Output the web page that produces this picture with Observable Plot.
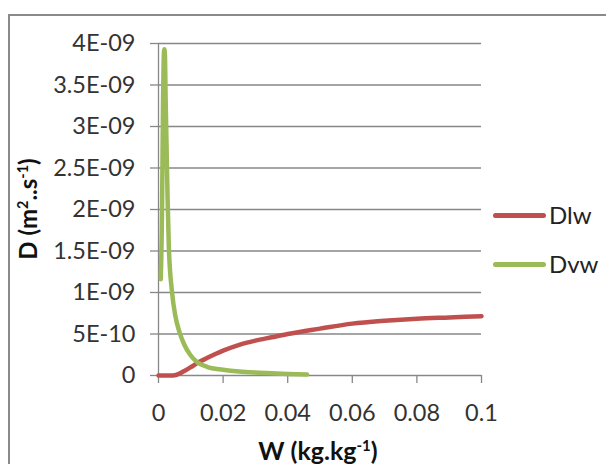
<!DOCTYPE html>
<html>
<head>
<meta charset="utf-8">
<script src="https://cdn.jsdelivr.net/npm/d3@7"></script>
<script src="https://cdn.jsdelivr.net/npm/@observablehq/plot@0.6"></script>
<style>
  body { margin: 0; background: #fff; }
  #wrap { position: relative; width: 606px; height: 464px; overflow: hidden; background: #fff; font-family: Lato, sans-serif; }
  #frame { position: absolute; left: 8px; top: 14px; width: 700px; height: 600px; border: 2px solid #8a8a8a; box-sizing: border-box; }
  #chart { position: absolute; left: 0; top: 0; }
  .ytitle { position: absolute; left: 27px; top: 209px; transform: translate(-50%, -50%) rotate(-90deg); font-weight: bold; font-size: 24px; color: #111; white-space: nowrap; }
  .xtitle { position: absolute; left: 318px; top: 450px; transform: translate(-50%, -50%); font-weight: bold; font-size: 25px; color: #111; white-space: nowrap; }
  sup { font-size: 0.6em; vertical-align: 0.6em; line-height: 0; }
  .leg { position: absolute; font-size: 24px; color: #222; white-space: nowrap; }
  .legline { position: absolute; height: 5px; border-radius: 3px; }
</style>
</head>
<body>
<div id="wrap">
  <div id="frame"></div>
  <div id="chart"></div>
  <div class="ytitle">D (m<sup>2</sup>..s<sup>-1</sup>)</div>
  <div class="xtitle">W (kg.kg<sup>-1</sup>)</div>
</div>
<script>
// Series names and colours
const seriesNames = ["Dlw", "Dvw"];
const seriesColors = ["#C0504D", "#9BBB59"];

// Dlw series
const W_lw = [0, 0.002, 0.004, 0.005, 0.006, 0.008, 0.010, 0.012, 0.015, 0.020, 0.025, 0.030, 0.035, 0.040, 0.050, 0.060, 0.070, 0.080, 0.090, 0.100];
const D_lw = [0, 0, 0, 0.003e-9, 0.015e-9, 0.055e-9, 0.10e-9, 0.15e-9, 0.21e-9, 0.30e-9, 0.37e-9, 0.42e-9, 0.46e-9, 0.50e-9, 0.565e-9, 0.625e-9, 0.66e-9, 0.685e-9, 0.70e-9, 0.715e-9];

// Dvw series
const W_vw = [0.0007, 0.0011, 0.0014, 0.0016, 0.0018, 0.0020, 0.0022, 0.0028, 0.0032, 0.0042, 0.0052, 0.0066, 0.0080, 0.0098, 0.012, 0.015, 0.020, 0.025, 0.030, 0.035, 0.040, 0.046];
const D_vw = [1.16e-9, 2.0e-9, 3.3e-9, 3.8e-9, 3.93e-9, 3.85e-9, 3.35e-9, 2.15e-9, 1.55e-9, 1.0e-9, 0.72e-9, 0.51e-9, 0.37e-9, 0.25e-9, 0.16e-9, 0.105e-9, 0.07e-9, 0.048e-9, 0.035e-9, 0.026e-9, 0.019e-9, 0.012e-9];

// Ticks
const xTicks = [0, 0.02, 0.04, 0.06, 0.08, 0.1];
const xTickLabels = ["0", "0.02", "0.04", "0.06", "0.08", "0.1"];
const yTicks = [0, 5e-10, 1e-9, 1.5e-9, 2e-9, 2.5e-9, 3e-9, 3.5e-9, 4e-9];
const yTickLabels = ["0", "5E-10", "1E-09", "1.5E-09", "2E-09", "2.5E-09", "3E-09", "3.5E-09", "4E-09"];

const lw = W_lw.map((w, i) => ({W: w, D: D_lw[i]}));
const vw = W_vw.map((w, i) => ({W: w, D: D_vw[i]}));

const grid = "#878787";
const chart = Plot.plot({
  width: 606,
  height: 464,
  marginLeft: 158,
  marginRight: 125,
  marginTop: 43,
  marginBottom: 89,
  x: {domain: [0, 0.1]},
  y: {domain: [0, 4e-9]},
  style: {fontFamily: "Lato, sans-serif", fontSize: "23.5px", color: "#333", background: "transparent", overflow: "visible"},
  marks: [
    Plot.gridY(yTicks, {stroke: grid, strokeOpacity: 1, strokeWidth: 1.3}),
    Plot.axisY(yTicks, {tickSize: 8, tickPadding: 15, stroke: grid, strokeOpacity: 1, strokeWidth: 1.3, label: null,
      tickFormat: d => yTickLabels[yTicks.indexOf(d)]}),
    Plot.axisX(xTicks, {tickSize: 8, tickPadding: 21, stroke: grid, strokeOpacity: 1, strokeWidth: 1.3, label: null,
      tickFormat: d => xTickLabels[xTicks.indexOf(d)]}),
    Plot.ruleX([0], {stroke: grid, strokeWidth: 1.3}),
    Plot.line(lw, {x: "W", y: "D", stroke: seriesColors[0], strokeWidth: 4.5, curve: "monotone-x"}),
    Plot.line(vw, {x: "W", y: "D", stroke: seriesColors[1], strokeWidth: 4.5, curve: "monotone-x"})
  ]
});
document.getElementById("chart").appendChild(chart);

// Legend
const wrap = document.getElementById("wrap");
const legY = [215, 264];
seriesNames.forEach((name, i) => {
  const ln = document.createElement("div");
  ln.className = "legline";
  ln.style.left = "493px";
  ln.style.top = (legY[i] - 2.5) + "px";
  ln.style.width = "53px";
  ln.style.background = seriesColors[i];
  wrap.appendChild(ln);
  const t = document.createElement("div");
  t.className = "leg";
  t.textContent = name;
  t.style.left = "549px";
  t.style.top = (legY[i] - 15) + "px";
  wrap.appendChild(t);
});
</script>
</body>
</html>
